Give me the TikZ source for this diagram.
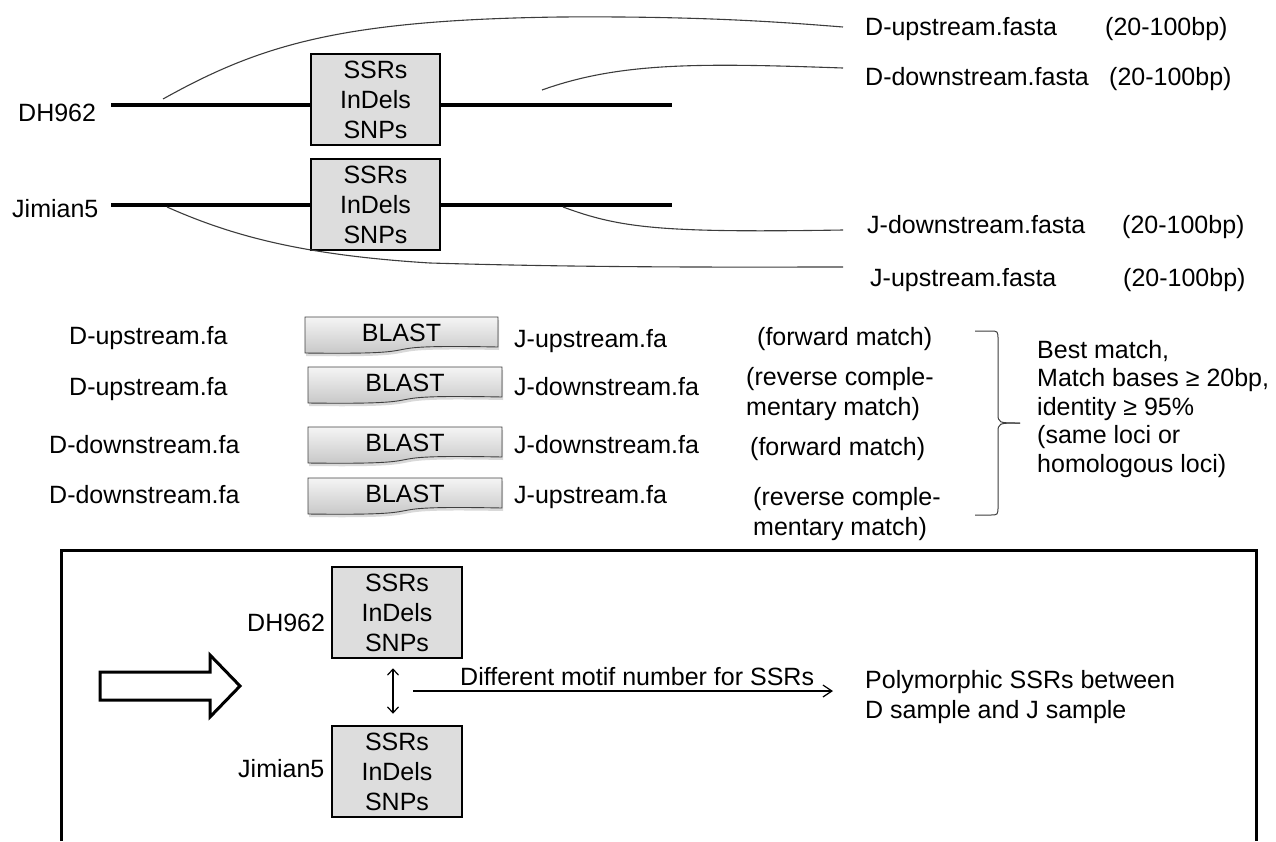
\documentclass[tikz,border=0pt]{standalone}
\usepackage{fontspec}
\setmainfont{Liberation Sans}
\usepackage{tikz}
\usetikzlibrary{
    positioning,
    arrows.meta,
    calc,
    shadows
}
\definecolor{boxGray}{RGB}{221,221,221}
\definecolor{curveGray}{RGB}{60,60,60}

\begin{document}
\begin{tikzpicture}[x=1pt, y=-1pt,
        font=\fontsize{25}{30}\selectfont,
        lbl/.style={anchor=base west, inner sep=0pt, align=left},
        varBox/.style={draw, line width=2.5pt, fill=boxGray, minimum width=129pt,
            minimum height=91pt, inner sep=0pt, align=center},
        flank/.style={line width=1.1pt, curveGray},
        chrom/.style={line width=4pt},
        barb/.style={line width=1.2pt}]
        \useasboundingbox (0,0) rectangle (1276,841);

        % two chromosomes with their variant loci
        \coordinate (dhL) at (111,105);
        \coordinate (dhR) at (672,105);
        \coordinate (jmL) at (111,205);
        \coordinate (jmR) at (672,205);
        \node[varBox] (dhBox) at (375.5,99.5) {SSRs\\InDels\\SNPs};
        \node[varBox] (jmBox) at (375.5,204.5) {SSRs\\InDels\\SNPs};
        \draw[chrom] (dhL) -- (dhL -| dhBox.west);
        \draw[chrom] (dhL -| dhBox.east) -- (dhR);
        \draw[chrom] (jmL) -- (jmL -| jmBox.west);
        \draw[chrom] (jmL -| jmBox.east) -- (jmR);
        \node[lbl] (dhName) at (18,121) {DH962};
        \node[lbl] (jmName) at (12,217) {Jimian5};

        % flanking sequences
        \node[lbl] (dUpF) at (865,35) {D-upstream.fasta};
        \node[lbl] (dDownF) at (865,85) {D-downstream.fasta};
        \node[lbl] (jDownF) at (867,233) {J-downstream.fasta};
        \node[lbl] (jUpF) at (870,286) {J-upstream.fasta};
        \foreach \x/\y [count=\i] in {1105/35, 1109/85, 1122/233, 1123/286}
            \node[lbl] (bp\i) at (\x,\y) {(20-100bp)};

        \coordinate (dUpS) at (163,99);
        \coordinate (dUpE) at (843,27);
        \coordinate (dDownS) at (542,90);
        \coordinate (dDownE) at (843,68);
        \coordinate (jDownS) at (563,207);
        \coordinate (jDownE) at (843,230);
        \coordinate (jUpS) at (167,207);
        \coordinate (jUpE) at (843,267);
        \draw[flank] (dUpS) .. controls (260,45) and (340,20) .. (560,17)
            .. controls (700,16) and (780,22) .. (dUpE);
        \draw[flank] (dDownS) .. controls (620,62) and (700,63) .. (dDownE);
        \draw[flank] (jDownS) .. controls (620,228) and (660,233) .. (jDownE);
        \draw[flank] (jUpS) .. controls (230,235) and (300,255) .. (430,263)
            .. controls (600,268) and (750,267) .. (jUpE);

        % BLAST
        \foreach \i/\xa/\xb/\ya in {1/305/498/317, 2/308/502/367, 3/308/502/427, 4/308/502/478} {
            \path[draw=gray!50!black, line width=0.9pt, top color=gray!8, bottom color=gray!45,
                drop shadow={opacity=0.3, shadow xshift=1pt, shadow yshift=-3pt}]
                (\xa,\ya) -- (\xb,\ya) -- (\xb,\ya+30)
                .. controls (\xb-150,\ya+27) and (\xa+150,\ya+38) .. (\xa,\ya+36) -- cycle;
            \node (blast\i) at ({(\xa+\xb)/2},\ya+16) {BLAST};
        }
        \node[lbl] (dUp1) at (69,344) {D-upstream.fa};
        \node[lbl] (jUp1) at (514,347) {J-upstream.fa};
        \node[lbl] (note1) at (757,345) {(forward match)};
        \node[lbl] (dUp2) at (69,395) {D-upstream.fa};
        \node[lbl] (jDown2) at (514,395) {J-downstream.fa};
        \node[lbl] (note2) at (746,415) {(reverse comple-\\mentary match)};
        \node[lbl] (dDown3) at (49,453) {D-downstream.fa};
        \node[lbl] (jDown3) at (514,453) {J-downstream.fa};
        \node[lbl] (note3) at (750,455) {(forward match)};
        \node[lbl] (dDown4) at (49,503) {D-downstream.fa};
        \node[lbl] (jUp4) at (514,503) {J-upstream.fa};
        \node[lbl] (note4) at (753,535) {(reverse comple-\\mentary match)};

        % brace
        \coordinate (brTop) at (975,331);
        \coordinate (brTip) at (1020,423);
        \coordinate (brBot) at (975,515);
        \draw[line width=1pt, curveGray] (brTop) -- (990,331) .. controls (998,331) .. (998,340)
            -- (998,413) .. controls (998,423) .. (brTip);
        \draw[line width=1pt, curveGray] (brBot) -- (990,515) .. controls (998,515) .. (998,506)
            -- (998,433) .. controls (998,423) .. (brTip);
        \node[lbl, font=\fontsize{25}{28.5}\selectfont] (criteria) at (1037,472)
            {Best match,\\Match bases ≥ 20bp,\\identity ≥ 95\%\\(same loci or\\homologous loci)};

        % result
        \draw[line width=3pt] (61,841) -- (61,550) -- (1256,550) -- (1256,841);
        \draw[line width=3pt, line join=miter] (100,672) -- (210,672) -- (210,655) -- (240,686)
            -- (210,717) -- (210,700) -- (100,700) -- cycle;
        \node[varBox, minimum width=130pt] (dhBox2) at (397,612.5) {SSRs\\InDels\\SNPs};
        \node[varBox, minimum width=130pt] (jmBox2) at (397,771.5) {SSRs\\InDels\\SNPs};
        \node[lbl] (dhName2) at (247,631) {DH962};
        \node[lbl] (jmName2) at (238,777) {Jimian5};
        \draw[barb, {Straight Barb[length=6pt,width=11pt]}-{Straight Barb[length=6pt,width=11pt]},
            shorten <=9pt, shorten >=11pt] ([xshift=-4pt]dhBox2.south) -- ([xshift=-4pt]jmBox2.north);
        \coordinate (motifS) at (413,691);
        \coordinate (motifE) at (833,691);
        \draw[barb, -{Straight Barb[length=9pt,width=12pt]}] (motifS) -- (motifE);
        \node[lbl] (motif) at (460,685) {Different motif number for SSRs};
        \node[lbl] (poly) at (865,718) {Polymorphic SSRs between\\D sample and J sample};
    \end{tikzpicture}
\end{document}
